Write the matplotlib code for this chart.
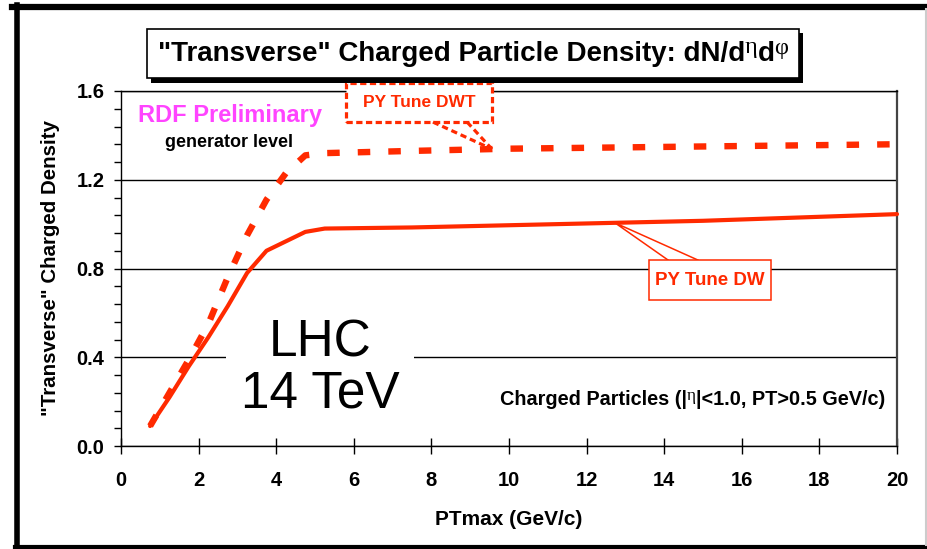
import numpy as np
import matplotlib
matplotlib.use("Agg")
import matplotlib.pyplot as plt
from matplotlib.patches import Rectangle
from matplotlib.lines import Line2D
from matplotlib.ticker import MultipleLocator

plt.rcParams['font.family'] = ['Liberation Sans', 'DejaVu Sans']
plt.rcParams['lines.scale_dashes'] = False

# PYTHIA tune predictions: transverse charged particle density vs PTmax
pt_dw = [0.75, 1.25, 1.75, 2.25, 2.75, 3.25, 3.75, 4.75, 5.25, 7.5, 10.0, 12.5, 15.0, 17.5, 20.0]
dens_dw = [0.09, 0.22, 0.36, 0.49, 0.63, 0.78, 0.88, 0.965, 0.98, 0.985, 0.995, 1.005, 1.015, 1.03, 1.045]

pt_dwt = [0.75, 1.25, 1.75, 2.25, 2.75, 3.25, 3.75, 4.25, 4.75, 5.25, 7.5, 10.0, 12.5, 15.0, 17.5, 20.0]
dens_dwt = [0.09, 0.24, 0.39, 0.55, 0.76, 0.95, 1.11, 1.23, 1.31, 1.32, 1.33, 1.34, 1.345, 1.35, 1.355, 1.36]

x_ticks = [0, 2, 4, 6, 8, 10, 12, 14, 16, 18, 20]
y_ticks = [0.0, 0.4, 0.8, 1.2, 1.6]
y_ticklabels = ["0.0", "0.4", "0.8", "1.2", "1.6"]

RED = '#FF2A00'
W, H = 928, 549
fig = plt.figure(figsize=(W / 100, H / 100), dpi=100)
renderer = fig.canvas.get_renderer()


def fx(px):
    return px / W


def fy(py):
    return 1 - py / H


def draw_runs(x_px, y_px, runs, ha='left', zorder=10):
    """Draw text pieces side by side on a common baseline (y_px in image pixels).

    runs: list of (string, text kwargs, rise in pixels)."""
    texts = []
    for s, kw, rise in runs:
        t = fig.text(0, 0, s, va='baseline', ha='left', zorder=zorder, **kw)
        texts.append((t, rise))
    widths = [t.get_window_extent(renderer).width for t, _ in texts]
    total = sum(widths)
    x = x_px - {'left': 0, 'center': total / 2, 'right': total}[ha]
    for (t, rise), w in zip(texts, widths):
        t.set_position((fx(x), fy(y_px - rise)))
        x += w


ax = fig.add_axes([fx(121), fy(446), fx(897) - fx(121), fy(91) - fy(446)])
ax.set_xlim(0, 20)
ax.set_ylim(0, 1.6)
ax.set_axisbelow(True)

ax.plot(pt_dw, dens_dw, color=RED, lw=3.0, solid_joinstyle='round',
        solid_capstyle='round', zorder=4, clip_on=False)
ax.plot(pt_dwt, dens_dwt, color=RED, lw=4.6, dashes=(9, 13),
        dash_capstyle='butt', zorder=4, clip_on=False)

ax.set_xticks(x_ticks)
ax.set_yticks(y_ticks)
ax.set_yticklabels(y_ticklabels)
ax.yaxis.set_minor_locator(MultipleLocator(0.08))
ax.tick_params(axis='x', direction='inout', length=11.5, width=1.0, pad=12,
               labelsize=14.5)
ax.tick_params(axis='y', which='both', direction='out', length=5, width=1.0,
               pad=7, labelsize=14.5)
for lab in ax.get_xticklabels() + ax.get_yticklabels():
    lab.set_fontweight('bold')

ax.grid(axis='y', color='black', lw=1.0)
for s in ['left', 'bottom', 'top']:
    ax.spines[s].set_color('black')
    ax.spines[s].set_linewidth(1.0)
ax.spines['right'].set_color('#444444')
ax.spines['right'].set_linewidth(1.6)

ax.set_xlabel('PTmax (GeV/c)', fontsize=15, fontweight='bold', labelpad=15)
ax.set_ylabel('"Transverse" Charged Density', fontsize=14.8, fontweight='bold')
ax.yaxis.set_label_coords(-0.078, 0.5)

# Energy label with white backing over the grid
ax.text(5.13, 0.35, 'LHC\n14 TeV', fontsize=37, ha='center', va='center',
        linespacing=1.05, zorder=2,
        bbox=dict(boxstyle='square,pad=0.28', fc='white', ec='none'))

ax.text(0.45, 1.49, 'RDF Preliminary', color='#FF44FF', fontsize=17,
        fontweight='bold', va='center', ha='left')
ax.text(1.14, 1.367, 'generator level', color='black', fontsize=13,
        fontweight='bold', va='center', ha='left')

# Callout for the DWT tune
bx0, bx1, by0, by1 = 5.80, 9.56, 1.460, 1.636
box_dwt = Rectangle((bx0, by0), bx1 - bx0, by1 - by0, fill=True, fc='white',
                    ec=RED, lw=2.3, ls=(0, (4.5, 2.5)), zorder=5, clip_on=False)
ax.add_patch(box_dwt)
tip_x = 9.56
tip_y = np.interp(tip_x, pt_dwt, dens_dwt)
for base_x in (8.04, 8.92):
    ax.add_line(Line2D([base_x, tip_x], [by0, tip_y], color=RED, lw=2.3,
                       dashes=(4.5, 2.8), zorder=5, clip_on=False))
ax.text((bx0 + bx1) / 2, (by0 + by1) / 2, 'PY Tune DWT', color=RED,
        fontsize=12.5, fontweight='bold', ha='center', va='center', zorder=6)

# Callout for the DW tune
cx0, cx1, cy0, cy1 = 13.61, 16.75, 0.658, 0.838
tip2_x = 12.73
tip2_y = np.interp(tip2_x, pt_dw, dens_dw)
ax.add_line(Line2D([14.10, tip2_x, 14.87], [cy1, tip2_y, cy1], color=RED,
                   lw=1.1, zorder=5, solid_joinstyle='miter'))
ax.add_patch(Rectangle((cx0, cy0), cx1 - cx0, cy1 - cy0, fc='white', ec=RED,
                       lw=1.1, zorder=5))
ax.text((cx0 + cx1) / 2, (cy0 + cy1) / 2, 'PY Tune DW', color=RED,
        fontsize=13.5, fontweight='bold', ha='center', va='center', zorder=6)

# Title panel with drop shadow
fig.patches.append(Rectangle((fx(151), fy(83)), fx(803) - fx(151), fy(33) - fy(83),
                             transform=fig.transFigure, fc='black', ec='none'))
fig.patches.append(Rectangle((fx(147), fy(78)), fx(799) - fx(147), fy(29) - fy(78),
                             transform=fig.transFigure, fc='white', ec='black',
                             lw=1.2))

bold20 = dict(fontsize=20, fontweight='bold', color='black')
greek_t = dict(fontsize=17.5, family=['Liberation Serif', 'DejaVu Serif'], color='black')
draw_runs(473, 61, [
    ('"Transverse" Charged Particle Density: dN/d', bold20, 0),
    ('η', greek_t, 8),
    ('d', bold20, 0),
    ('φ', greek_t, 7),
], ha='center')

bold13 = dict(fontsize=14.3, fontweight='bold', color='black')
greek_c = dict(fontsize=12.5, family=['Liberation Serif', 'DejaVu Serif'], color='black')
draw_runs(885, 405, [
    ('Charged Particles (|', bold13, 0),
    ('η', greek_c, 5),
    ('|<1.0, PT>0.5 GeV/c)', bold13, 0),
], ha='right')

# Outer frame
fig.add_artist(Line2D([fx(12), fx(928)], [fy(7), fy(7)], color='black', lw=4.5,
                      transform=fig.transFigure))
fig.add_artist(Line2D([fx(17.5), fx(17.5)], [fy(5), fy(547)], color='black', lw=4,
                      transform=fig.transFigure))
fig.add_artist(Line2D([fx(15), fx(928)], [fy(547), fy(547)], color='black', lw=3,
                      transform=fig.transFigure))
fig.add_artist(Line2D([fx(926.5), fx(926.5)], [fy(9), fy(545)], color='#CCCCCC',
                      lw=1.5, transform=fig.transFigure))

fig.savefig('out.png', dpi=100)
